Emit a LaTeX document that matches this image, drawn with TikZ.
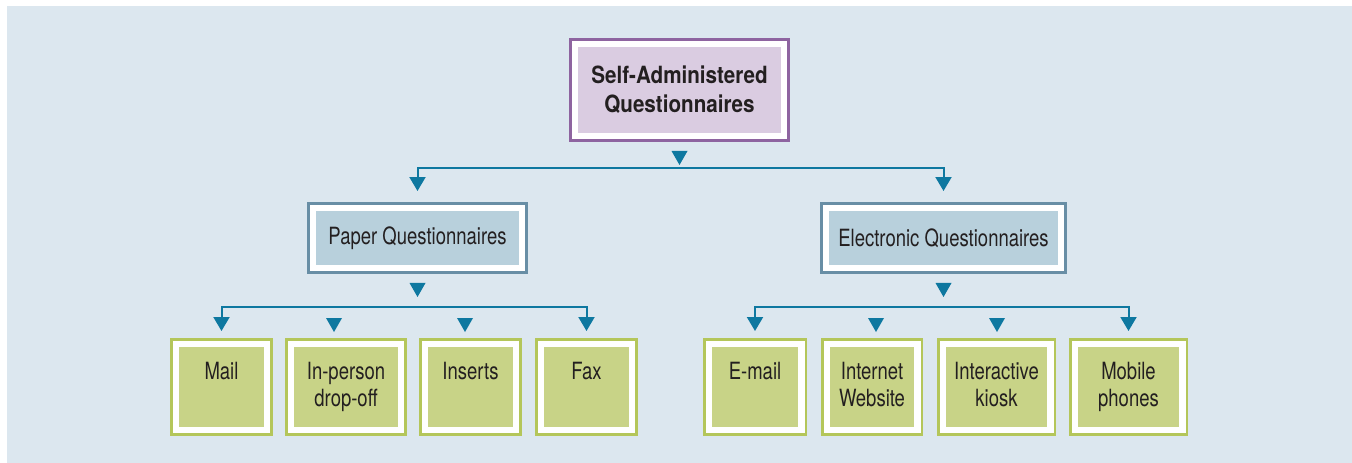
\documentclass[tikz,border=0pt]{standalone}
\usepackage{fontspec}
\setmainfont{TeX Gyre Heros}[FakeStretch=0.78, BoldFeatures={FakeStretch=0.87}]
\usepackage{xcolor}
\usetikzlibrary{arrows.meta, calc, positioning}

\definecolor{bgblue}{RGB}{220,231,239}
\definecolor{busblue}{RGB}{14,120,160}
\definecolor{ink}{RGB}{35,31,32}
\definecolor{purpleline}{RGB}{142,100,160}
\definecolor{purplefill}{RGB}{218,204,225}
\definecolor{steelline}{RGB}{104,142,165}
\definecolor{steelfill}{RGB}{184,208,220}
\definecolor{greenline}{RGB}{180,198,90}
\definecolor{greenfill}{RGB}{200,211,135}

\newcommand{\qfont}{\fontsize{13.5}{15.9}\selectfont}
\newcommand{\qtitlefont}{\bfseries\fontsize{13.5}{16.7}\selectfont}

\tikzset{
    qbox/.style 2 args={draw=#1, fill=white, line width=0.05cm, inner sep=0pt,
        align=center, text=ink,
        path picture={\fill[#2]
            ([shift={(0.15cm,0.15cm)}]path picture bounding box.south west) rectangle
            ([shift={(-0.15cm,-0.15cm)}]path picture bounding box.north east);}},
    topbox/.style={qbox={purpleline}{purplefill}, font=\qtitlefont,
        minimum width=4.37cm, minimum height=2.03cm},
    midbox/.style={qbox={steelline}{steelfill}, font=\qfont,
        minimum width=#1, minimum height=1.39cm},
    leafbox/.style={qbox={greenline}{greenfill}, font=\qfont,
        text width=#1, text height=0.795cm, text depth=1.115cm},
    leafbox/.default=2.01cm,
    bus/.style={draw=busblue, line width=0.04cm, -{Triangle[width=0.32cm,length=0.28cm]}},
}

\begin{document}
\begin{tikzpicture}[x=0.02cm, y=-0.02cm]
    \useasboundingbox (0,0) rectangle (1352,463);
    \fill[bgblue] (7,6) rectangle (1352,463);

    % boxes
    \node[topbox] (top) at (679.5,90) {Self-Administered\\Questionnaires};
    \node[midbox=4.37cm] (paper) at (417.5,238) {Paper Questionnaires};
    \node[midbox=4.89cm] (elec) at (943.5,238) {Electronic Questionnaires};

    \node[leafbox] (mail) at (221.5,387) {Mail};
    \node[leafbox=2.39cm] (inperson) at (346,387) {In-person\\drop-off};
    \node[leafbox] (inserts) at (470.5,387) {Inserts};
    \node[leafbox] (fax) at (586.5,387) {Fax};
    \node[leafbox=2.03cm] (email) at (755,387) {E-mail};
    \node[leafbox=1.99cm] (internet) at (872,387) {Internet\\Website};
    \node[leafbox=2.33cm] (kiosk) at (996.5,387) {Interactive\\kiosk};
    \node[leafbox=2.33cm] (mobile) at (1128.5,387) {Mobile\\phones};

    % buses
    \coordinate (ubus) at (679.5,168);
    \coordinate (pbus) at (417.5,307);
    \coordinate (ebus) at (943.5,307);

    \draw[bus, shorten >=0.22cm] (ubus) -| (paper.north);
    \draw[bus, shorten >=0.22cm] (ubus) -| (elec.north);
    \draw[bus, shorten >=0.14cm] (pbus) -| (mail.north);
    \draw[bus, shorten >=0.14cm] (pbus) -| (fax.north);
    \draw[bus, shorten >=0.14cm] (ebus) -| (email.north);
    \draw[bus, shorten >=0.14cm] (ebus) -| (mobile.north);

    % loose wedges
    \foreach \n in {top, paper, elec}
        \fill[busblue] ($(\n.south)+(0,23)$) -- ++(-8,-14) -- ++(16,0) -- cycle;
    \foreach \x in {334,465,876,997}
        \fill[busblue] (\x,332) -- ++(-8,-14) -- ++(16,0) -- cycle;
\end{tikzpicture}
\end{document}
